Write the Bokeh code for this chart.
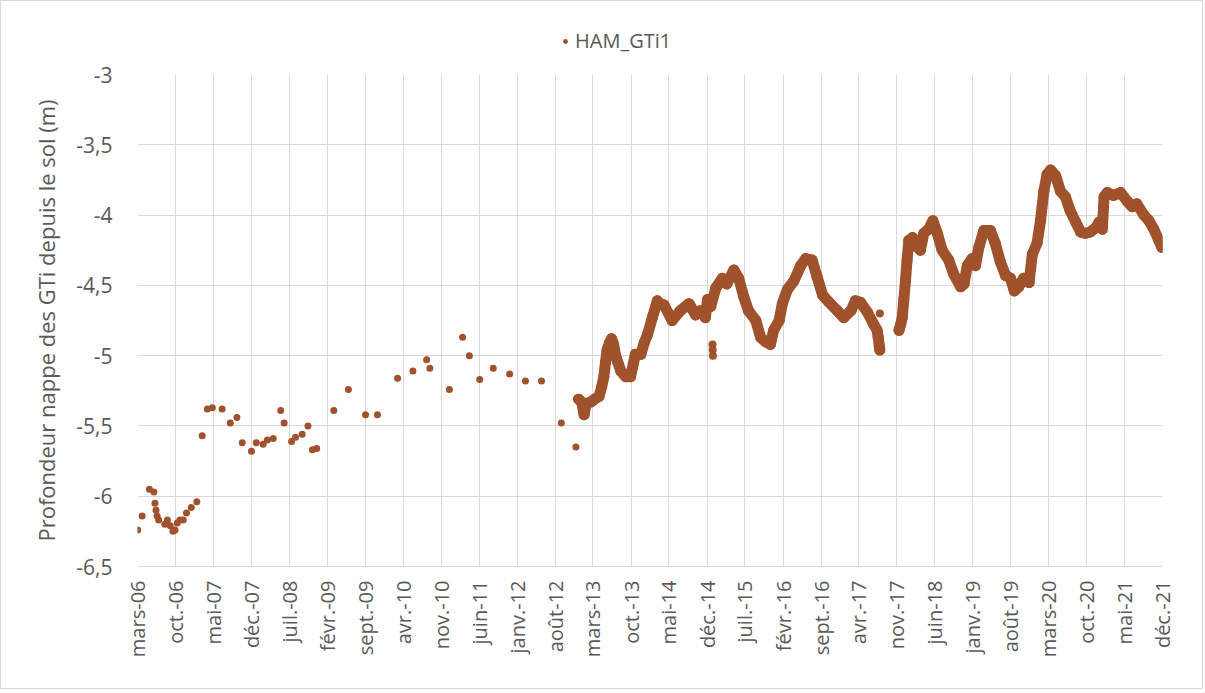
import math
from datetime import datetime
from bokeh.plotting import figure
from bokeh.layouts import column
from bokeh.models import Range1d, FixedTicker, Legend, LegendItem
from bokeh.embed import file_html
from bokeh.resources import INLINE

# ---------------- data ----------------
tick_dates = ["2006-03-01", "2006-10-01", "2007-05-01", "2007-12-01", "2008-07-01", "2009-02-01",
              "2009-09-01", "2010-04-01", "2010-11-01", "2011-06-01", "2012-01-01", "2012-08-01",
              "2013-03-01", "2013-10-01", "2014-05-01", "2014-12-01", "2015-07-01", "2016-02-01",
              "2016-09-01", "2017-04-01", "2017-11-01", "2018-06-01", "2019-01-01", "2019-08-01",
              "2020-03-01", "2020-10-01", "2021-05-01", "2021-12-01"]
tick_labels = ["mars-06", "oct.-06", "mai-07", "déc.-07", "juil.-08", "févr.-09", "sept.-09",
               "avr.-10", "nov.-10", "juin-11", "janv.-12", "août-12", "mars-13", "oct.-13",
               "mai-14", "déc.-14", "juil.-15", "févr.-16", "sept.-16", "avr.-17", "nov.-17",
               "juin-18", "janv.-19", "août-19", "mars-20", "oct.-20", "mai-21", "déc.-21"]
y_ticks = [-6.5, -6.0, -5.5, -5.0, -4.5, -4.0, -3.5, -3.0]
y_tick_labels = ["-6,5", "-6", "-5,5", "-5", "-4,5", "-4", "-3,5", "-3"]

series_name = "HAM_GTi1"

# manual measurements (sparse)
manual_dates = ["2006-03-02", "2006-03-27", "2006-05-07", "2006-06-01", "2006-06-07", "2006-06-13",
                "2006-06-19", "2006-06-28", "2006-08-01", "2006-08-16", "2006-09-01", "2006-09-16",
                "2006-09-28", "2006-10-10", "2006-10-25", "2006-11-13", "2006-12-01", "2006-12-28",
                "2007-01-28", "2007-02-27", "2007-03-28", "2007-04-25", "2007-06-19", "2007-08-04",
                "2007-09-10", "2007-10-10", "2007-12-01", "2007-12-28", "2008-02-04", "2008-02-28",
                "2008-04-01", "2008-05-13", "2008-06-01", "2008-07-13", "2008-08-04", "2008-09-10",
                "2008-10-13", "2008-11-07", "2008-12-01", "2009-03-07", "2009-05-28", "2009-09-01",
                "2009-11-07", "2010-02-28", "2010-05-25", "2010-08-10", "2010-08-28", "2010-12-16",
                "2011-02-28", "2011-04-07", "2011-06-04", "2011-08-19", "2011-11-19", "2012-02-16",
                "2012-05-16", "2012-09-04", "2012-11-25"]
manual_depth = [-6.24, -6.14, -5.95, -5.97, -6.05, -6.10,
                -6.14, -6.17, -6.20, -6.17, -6.21, -6.25,
                -6.24, -6.19, -6.17, -6.17, -6.12, -6.08,
                -6.04, -5.57, -5.38, -5.37, -5.38, -5.48,
                -5.44, -5.62, -5.68, -5.62, -5.63, -5.60,
                -5.59, -5.39, -5.48, -5.61, -5.58, -5.56,
                -5.50, -5.67, -5.66, -5.39, -5.24, -5.42,
                -5.42, -5.16, -5.11, -5.03, -5.09, -5.24,
                -4.87, -5.00, -5.17, -5.09, -5.13, -5.18,
                -5.18, -5.48, -5.65]

# logger record, first period
logger1_dates = ["2012-12-10", "2012-12-28", "2013-01-10", "2013-01-22", "2013-02-16", "2013-03-10",
                 "2013-04-04", "2013-04-19", "2013-05-01", "2013-05-10", "2013-05-19", "2013-06-01",
                 "2013-06-13", "2013-06-25", "2013-07-04", "2013-07-19", "2013-08-04", "2013-09-01",
                 "2013-09-28", "2013-10-13", "2013-10-25", "2013-11-25", "2013-12-13", "2014-01-01",
                 "2014-01-28", "2014-02-25", "2014-03-13", "2014-04-04", "2014-05-19", "2014-07-04",
                 "2014-08-22", "2014-09-28", "2014-10-25", "2014-11-22", "2014-12-04", "2014-12-22",
                 "2015-01-19", "2015-02-25", "2015-03-22", "2015-05-01", "2015-05-28", "2015-06-25",
                 "2015-07-22", "2015-09-01", "2015-09-28", "2015-10-25", "2015-11-22", "2015-12-10",
                 "2016-01-10", "2016-01-28", "2016-02-25", "2016-04-01", "2016-05-10", "2016-06-07",
                 "2016-07-13", "2016-08-10", "2016-09-10", "2016-10-16", "2016-12-01", "2017-01-07",
                 "2017-02-16", "2017-03-13", "2017-04-10", "2017-05-19", "2017-06-25", "2017-07-13",
                 "2017-07-19", "2017-07-25", "2017-07-28"]
logger1_depth = [-5.31, -5.33, -5.42, -5.34, -5.33, -5.31,
                 -5.29, -5.22, -5.15, -5.05, -4.96, -4.91,
                 -4.88, -4.92, -4.99, -5.05, -5.11, -5.15,
                 -5.15, -5.06, -4.99, -4.99, -4.91, -4.85,
                 -4.73, -4.61, -4.63, -4.64, -4.75, -4.68,
                 -4.63, -4.71, -4.68, -4.73, -4.60, -4.65,
                 -4.52, -4.45, -4.49, -4.39, -4.45, -4.58,
                 -4.68, -4.75, -4.87, -4.90, -4.92, -4.82,
                 -4.75, -4.63, -4.53, -4.47, -4.36, -4.31,
                 -4.32, -4.44, -4.57, -4.62, -4.68, -4.73,
                 -4.68, -4.61, -4.62, -4.69, -4.78, -4.82,
                 -4.87, -4.93, -4.96]

# logger record, second period
logger2_dates = ["2017-11-13", "2017-11-22", "2017-12-01", "2017-12-10", "2017-12-19", "2017-12-28",
                 "2018-01-07", "2018-01-28", "2018-02-25", "2018-03-13", "2018-04-01", "2018-04-28",
                 "2018-05-22", "2018-06-16", "2018-07-13", "2018-08-19", "2018-09-16", "2018-10-25",
                 "2018-11-13", "2018-12-01", "2018-12-28", "2019-01-16", "2019-02-04", "2019-03-04",
                 "2019-04-10", "2019-05-07", "2019-06-04", "2019-07-04", "2019-08-01", "2019-08-22",
                 "2019-09-16", "2019-10-13", "2019-11-13", "2019-12-01", "2019-12-28", "2020-01-16",
                 "2020-02-04", "2020-02-22", "2020-03-13", "2020-04-10", "2020-05-07", "2020-06-04",
                 "2020-07-01", "2020-08-01", "2020-08-28", "2020-09-25", "2020-10-22", "2020-11-22",
                 "2020-12-10", "2020-12-28", "2021-01-07", "2021-01-25", "2021-03-01", "2021-04-10",
                 "2021-05-16", "2021-06-13", "2021-07-10", "2021-08-19", "2021-09-16", "2021-10-13",
                 "2021-11-10", "2021-11-28"]
logger2_depth = [-4.82, -4.78, -4.73, -4.60, -4.47, -4.32,
                 -4.18, -4.16, -4.23, -4.25, -4.13, -4.10,
                 -4.04, -4.13, -4.25, -4.32, -4.42, -4.51,
                 -4.49, -4.36, -4.31, -4.36, -4.23, -4.11,
                 -4.11, -4.20, -4.33, -4.43, -4.45, -4.54,
                 -4.51, -4.45, -4.48, -4.28, -4.20, -4.04,
                 -3.83, -3.71, -3.68, -3.72, -3.83, -3.87,
                 -3.97, -4.05, -4.12, -4.13, -4.12, -4.09,
                 -4.05, -4.10, -3.87, -3.84, -3.86, -3.84,
                 -3.90, -3.94, -3.92, -4.00, -4.04, -4.10,
                 -4.18, -4.23]

# isolated logger readings
isolated_dates = ["2015-01-01", "2015-01-02", "2015-01-03", "2017-07-28"]
isolated_depth = [-4.92, -4.96, -5.00, -4.70]

# ---------------- helpers ----------------
EPOCH = datetime(1970, 1, 1)


def to_dt(s):
    return datetime.strptime(s, "%Y-%m-%d")


def to_ms(s):
    return int((to_dt(s) - EPOCH).total_seconds() * 1000)


COLOR = "#A0522D"
GREY_TXT = "#595959"
GRID = "#d9d9d9"
FONT = "Open Sans"

tick_ms = [to_ms(d) for d in tick_dates]

# ---------------- main plot ----------------
p = figure(frame_width=1025, frame_height=492, x_axis_type="datetime",
           x_range=Range1d(tick_ms[0], tick_ms[-1]), y_range=Range1d(-6.5, -3.0),
           output_backend="svg", toolbar_location=None,
           min_border_left=136, min_border_right=40, min_border_top=13, min_border_bottom=122)

p.outline_line_color = None
p.background_fill_color = "white"
p.border_fill_color = "white"

# x axis
p.xaxis.ticker = FixedTicker(ticks=tick_ms)
p.xaxis.major_label_overrides = {t: lab for t, lab in zip(tick_ms, tick_labels)}
p.xaxis.major_label_orientation = math.pi / 2
p.xaxis.major_label_text_font = FONT
p.xaxis.major_label_text_font_size = "20px"
p.xaxis.major_label_text_color = GREY_TXT
p.xaxis.major_label_standoff = 8
p.xaxis.axis_line_color = GRID
p.xaxis.major_tick_line_color = None
p.xaxis.minor_tick_line_color = None

# y axis
p.yaxis.ticker = FixedTicker(ticks=y_ticks)
p.yaxis.major_label_overrides = {t: lab for t, lab in zip(y_ticks, y_tick_labels)}
p.yaxis.major_label_text_font = FONT
p.yaxis.major_label_text_font_size = "21px"
p.yaxis.major_label_text_color = GREY_TXT
p.yaxis.major_label_standoff = 19
p.yaxis.axis_line_color = None
p.yaxis.major_tick_line_color = None
p.yaxis.minor_tick_line_color = None
p.yaxis.axis_label = "Profondeur nappe des GTi depuis le sol (m)"
p.yaxis.axis_label_text_font = FONT
p.yaxis.axis_label_text_font_size = "22px"
p.yaxis.axis_label_text_font_style = "normal"
p.yaxis.axis_label_text_color = GREY_TXT
p.yaxis.axis_label_standoff = 12

p.xgrid.grid_line_color = GRID
p.ygrid.grid_line_color = GRID

# logger bands
for dates, vals in ((logger1_dates, logger1_depth), (logger2_dates, logger2_depth)):
    xs = [to_dt(d) for d in dates]
    p.line(xs, vals, line_color=COLOR, line_width=11, line_join="round", line_cap="round")
    p.scatter(xs, vals, marker="circle", size=11, fill_color=COLOR, line_color=None)

p.scatter([to_dt(d) for d in isolated_dates], isolated_depth, marker="circle", size=8,
          fill_color=COLOR, line_color=None)

p.scatter([to_dt(d) for d in manual_dates], manual_depth, marker="circle", size=7,
          fill_color=COLOR, line_color=None)

# ---------------- legend strip above the plot ----------------
# the strip's ranges lie away from the data, so its renderer only feeds the legend swatch
lf = figure(width=1201, height=60, output_backend="svg", toolbar_location=None,
            x_axis_location=None, y_axis_location=None, min_border=0,
            x_range=Range1d(0, 1), y_range=Range1d(0, 1))
lf.outline_line_color = None
lf.grid.visible = False
legend_marker = lf.scatter([to_dt(d) for d in manual_dates], manual_depth, marker="circle", size=8,
                           fill_color=COLOR, line_color=None)
legend = Legend(items=[LegendItem(label=series_name, renderers=[legend_marker])],
                orientation="horizontal", location=(422, 7),
                border_line_color=None, background_fill_alpha=0,
                label_text_font=FONT, label_text_font_size="20px", label_text_color=GREY_TXT,
                glyph_width=12, glyph_height=20, label_standoff=4, spacing=0, padding=4, margin=0)
lf.add_layout(legend)

layout = column(lf, p, spacing=0, styles={"border": "1px solid #d9d9d9"})

open("out.html", "w").write(file_html(layout, INLINE))
